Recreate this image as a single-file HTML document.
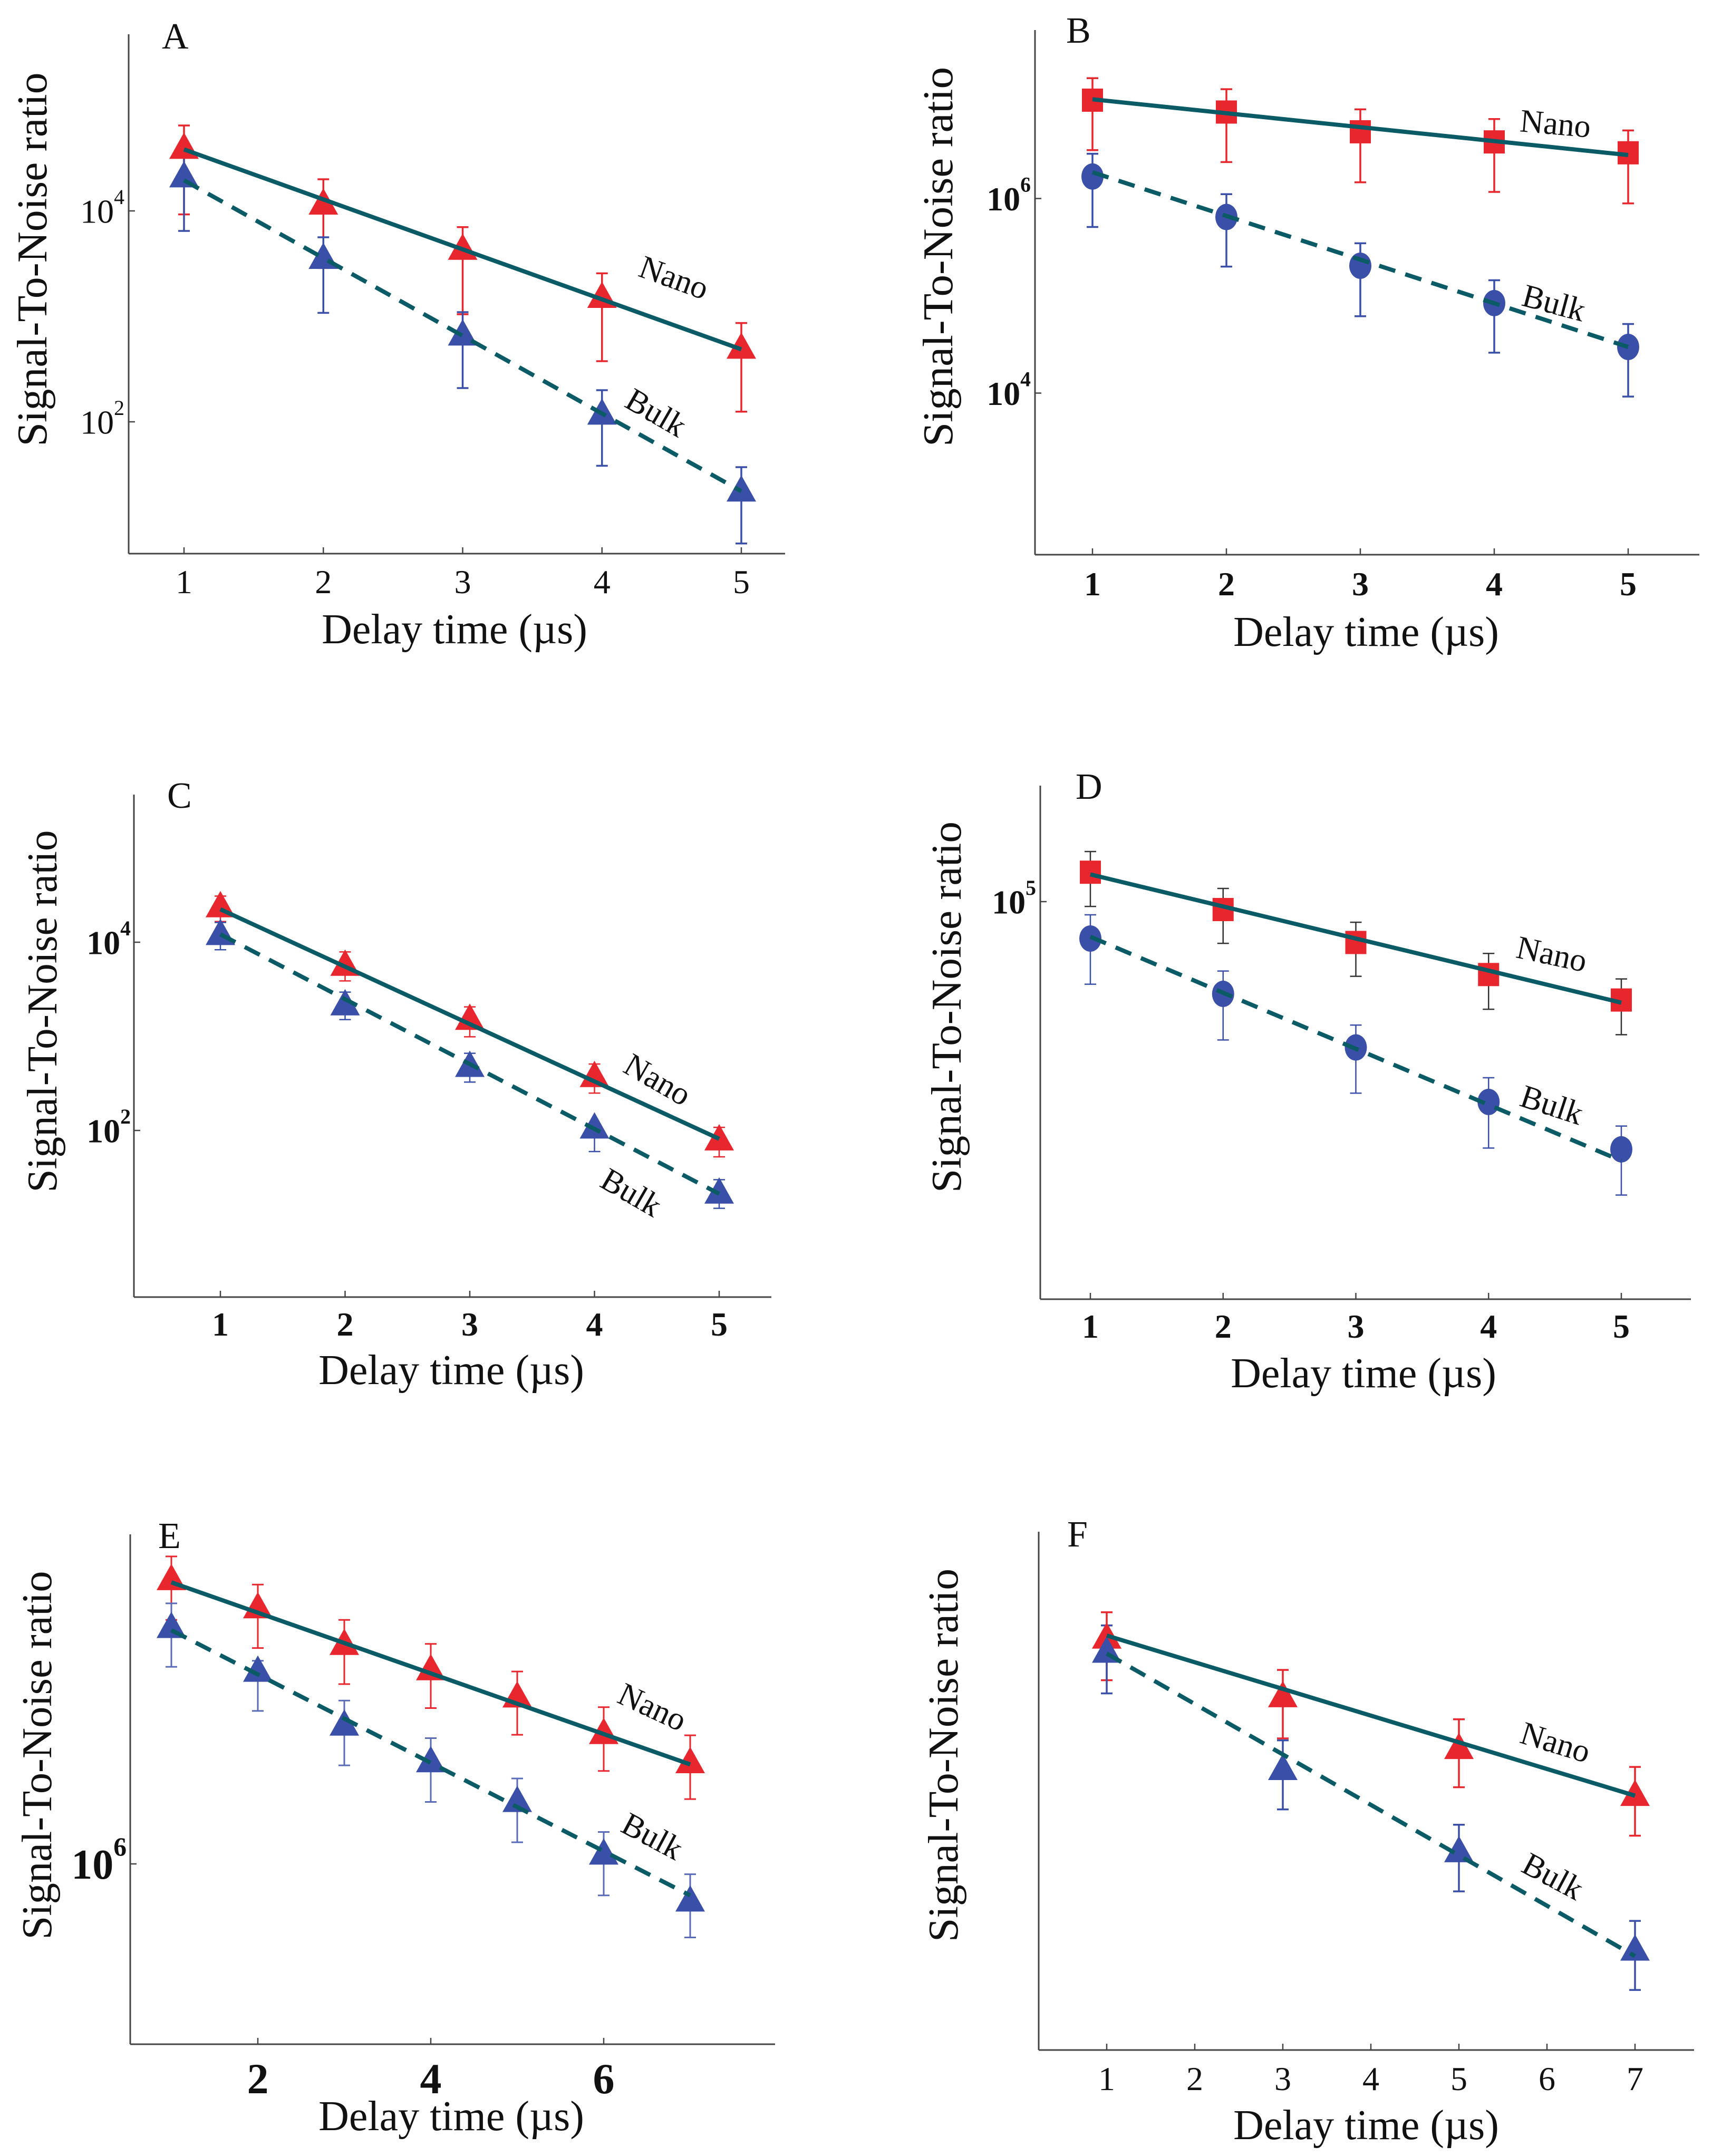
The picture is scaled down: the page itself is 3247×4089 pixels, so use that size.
<!DOCTYPE html>
<html><head><meta charset="utf-8"><style>
html,body{margin:0;padding:0;background:#fff}
svg{display:block}
text{font-family:"Liberation Serif",serif;fill:#111}
</style></head><body>
<svg id="fig" width="3247" height="4089" viewBox="0 0 3247 4089" xmlns="http://www.w3.org/2000/svg"></svg>
<script>
// ---- data (log10 of signal-to-noise) ----
const xA=[1,2,3,4,5];
const nanoA=[4.604,4.075,3.646,3.19,2.708];
const nanoHiA=[4.81,4.3,3.846,3.408,2.937];
const nanoLoA=[3.967,3.458,3.02,2.575,2.096];
const bulkA=[4.333,3.56,2.833,2.083,1.354];
const bulkHiA=[4.54,3.75,3.04,2.3,1.57];
const bulkLoA=[3.81,3.033,2.32,1.583,0.846];
const fitNanoA=[4.583,2.6875];
const fitBulkA=[4.29,1.342];

const xB=[1,2,3,4,5];
const nanoB=[7.011,6.889,6.686,6.582,6.47];
const nanoHiB=[7.237,7.124,6.917,6.817,6.7];
const nanoLoB=[6.497,6.375,6.167,6.068,5.95];
const bulkB=[6.226,5.81,5.309,4.925,4.474];
const bulkHiB=[6.46,6.045,5.54,5.16,4.71];
const bulkLoB=[5.707,5.3,4.79,4.415,3.964];
const fitNanoB=[7.02,6.447];
const fitBulkB=[6.27,4.474];

const xC=[1,2,3,4,5];
const nanoC=[4.388,3.766,3.192,2.584,1.911];
const nanoHiC=[4.49,3.897,3.313,2.706,2.033];
const nanoLoC=[4.22,3.589,2.995,2.397,1.72];
const bulkC=[4.093,3.346,2.692,2.037,1.346];
const bulkHiC=[4.21,3.47,2.82,2.07,1.477];
const bulkLoC=[3.92,3.178,2.514,1.776,1.173];
const fitNanoC=[4.35,1.911];
const fitBulkC=[4.084,1.327];

const xD=[1,2,3,4,5];
const nanoD=[5.067,4.982,4.907,4.834,4.776];
const nanoHiD=[5.114,5.03,4.953,4.882,4.824];
const nanoLoD=[4.989,4.905,4.83,4.755,4.697];
const bulkD=[4.916,4.79,4.668,4.544,4.436];
const bulkHiD=[4.97,4.842,4.719,4.599,4.489];
const bulkLoD=[4.812,4.685,4.564,4.439,4.332];
const fitNanoD=[5.062,4.77];
const fitBulkD=[4.92,4.41];

const xE=[1,2,3,4,5,6,7];
const nanoE=[6.76,6.685,6.5875,6.52,6.4475,6.35,6.2725];
const nanoHiE=[6.819,6.744,6.65,6.586,6.5125,6.4175,6.3425];
const nanoLoE=[6.65,6.575,6.479,6.415,6.344,6.2475,6.1725];
const bulkE=[6.6325,6.516,6.3725,6.275,6.169,6.029,5.904];
const bulkHiE=[6.694,6.541,6.435,6.335,6.2275,6.085,5.9725];
const bulkLoE=[6.525,6.4075,6.2625,6.165,6.0575,5.916,5.804];
const fitNanoE=[6.75,6.265];
const fitBulkE=[6.6225,5.916];

const xF=[1,3,5,7];
const nanoF=[4.1,3.944,3.806,3.681];
const nanoHiF=[4.166,4.0125,3.881,3.754];
const nanoLoF=[3.985,3.83,3.7,3.571];
const bulkF=[4.0625,3.75,3.531,3.269];
const bulkHiF=[4.131,3.825,3.6,3.344];
const bulkLoF=[3.95,3.641,3.4225,3.16];
const fitNanoF=[4.104,3.6775];
const fitBulkF=[4.056,3.25];

const xTicksA=[1,2,3,4,5], xTicksE=[2,4,6], xTicksF=[1,2,3,4,5,6,7];
const yTicksA=[4,2], yTicksB=[6,4], yTicksC=[4,2], yTicksD=[5], yTicksE=[6], yTicksF=[];

// ---- layout ----
const panels=[
 {id:'a',L:'A',lx:307,ly:92,x:xA,n:nanoA,nh:nanoHiA,nl:nanoLoA,b:bulkA,bh:bulkHiA,bl:bulkLoA,fn:fitNanoA,fb:fitBulkA,
  ax:244,top:65,ay:1050,right:1489,xa:[1,349],xb:[5,1406],ya:[4,400],yb:[2,800],xt:xTicksA,yt:yTicksA,bold:false,
  tickY:1125,tickF:64,ytF:64,ytR:236,title:[862,1220],yl:[62,492,709],nano:[1278,527,20],bulk:[1244,783,30],mk:'tri',ne:'#e8262e',be:'#3a4fa8',ew:3.5},
 {id:'b',L:'B',lx:2022,ly:81,x:xB,n:nanoB,nh:nanoHiB,nl:nanoLoB,b:bulkB,bh:bulkHiB,bl:bulkLoB,fn:fitNanoB,fb:fitBulkB,
  ax:1963,top:57,ay:1052,right:3223,xa:[1,2072],xb:[5,3088],ya:[6,376.5],yb:[4,745.5],xt:xTicksA,yt:yTicksB,bold:true,
  tickY:1129,tickF:64,ytF:64,ytR:1955,title:[2591,1225],yl:[1780,487,720],nano:[2950,235,5],bulk:[2947,575,15],mk:'sq',ne:'#e8262e',be:'#3a4fa8',ew:3.5},
 {id:'c',L:'C',lx:317,ly:1532,x:xC,n:nanoC,nh:nanoHiC,nl:nanoLoC,b:bulkC,bh:bulkHiC,bl:bulkLoC,fn:fitNanoC,fb:fitBulkC,
  ax:254,top:1507,ay:2460,right:1463,xa:[1,418],xb:[5,1364],ya:[4,1787],yb:[2,2144],xt:xTicksA,yt:yTicksC,bold:true,
  tickY:2533,tickF:64,ytF:64,ytR:248,title:[856,2625],yl:[81,1918,687],nano:[1247,2048,30],bulk:[1197,2262,30],mk:'tri',ne:'#e8262e',be:'#3a4fa8',ew:2.5},
 {id:'d',L:'D',lx:2040,ly:1515,x:xD,n:nanoD,nh:nanoHiD,nl:nanoLoD,b:bulkD,bh:bulkHiD,bl:bulkLoD,fn:fitNanoD,fb:fitBulkD,
  ax:1973,top:1490,ay:2464,right:3207,xa:[1,2068],xb:[5,3075],ya:[5,1710],yb:[4,2543],xt:xTicksA,yt:yTicksD,bold:true,
  tickY:2537,tickF:64,ytF:64,ytR:1965,title:[2586,2631],yl:[1796,1910,704],nano:[2943,1810,12],bulk:[2943,2096,18],mk:'sq',ne:'#333',be:'#3a4fa8',ew:2.5},
 {id:'e',L:'E',lx:300,ly:2936,x:xE,n:nanoE,nh:nanoHiE,nl:nanoLoE,b:bulkE,bh:bulkHiE,bl:bulkLoE,fn:fitNanoE,fb:fitBulkE,
  ax:247,top:2910,ay:3877,right:1470,xa:[2,489],xb:[6,1145],ya:[6,3535],yb:[5,4247],xt:xTicksE,yt:yTicksE,bold:true,
  tickY:3970,tickF:82,ytF:80,ytR:240,title:[856,4040],yl:[71,3329,699],nano:[1237,3238,25],bulk:[1237,3483,28],mk:'tri',ne:'#e8262e',be:'#5a6bb8',ew:3},
 {id:'f',L:'F',lx:2024,ly:2933,x:xF,n:nanoF,nh:nanoHiF,nl:nanoLoF,b:bulkF,bh:bulkHiF,bl:bulkLoF,fn:fitNanoF,fb:fitBulkF,
  ax:1970,top:2905,ay:3888,right:3213,xa:[1,2099],xb:[7,3101],ya:[3,3888],yb:[4,3176],xt:xTicksF,yt:yTicksF,bold:false,
  tickY:3964,tickF:64,ytF:56,ytR:1960,title:[2591,4057],yl:[1790,3329,708],nano:[2950,3305,17],bulk:[2945,3559,28],mk:'tri',ne:'#e8262e',be:'#3a4fa8',ew:3.5}
];
const NS='http://www.w3.org/2000/svg';
const svg=document.getElementById('fig');
function mk(tag,attrs,parent){const e=document.createElementNS(NS,tag);for(const k in attrs)e.setAttribute(k,attrs[k]);(parent||svg).appendChild(e);return e;}
const RED='#e8262e',BLUE='#3a4fa8',TEAL='#0b5b66';
panels.forEach(p=>{
  const g=mk('g',{});
  
  
  const X=v=>p.xa[1]+(v-p.xa[0])*(p.xb[1]-p.xa[1])/(p.xb[0]-p.xa[0]);
  const Y=v=>p.ya[1]+(v-p.ya[0])*(p.yb[1]-p.ya[1])/(p.yb[0]-p.ya[0]);
  const ya=mk('line',{x1:p.ax,y1:p.top,x2:p.ax,y2:p.ay,stroke:'#444','stroke-width':3},g);
  
  
  const xaL=mk('line',{x1:p.ax,y1:p.ay,x2:p.right,y2:p.ay,stroke:'#444','stroke-width':3},g);
  
  
  p.xt.forEach(t=>{
    mk('line',{x1:X(t),y1:p.ay,x2:X(t),y2:p.ay-12,stroke:'#444','stroke-width':2.5},g);
    const tl=mk('text',{x:X(t),y:p.tickY,'text-anchor':'middle','font-size':p.tickF,'font-weight':p.bold?'bold':'normal'},g);
    tl.textContent=t;
    
    
  });
  p.yt.forEach(t=>{
    mk('line',{x1:p.ax,y1:Y(t),x2:p.ax+12,y2:Y(t),stroke:'#444','stroke-width':2.5},g);
    const tl=mk('text',{x:p.ytR,y:Y(t)+p.ytF*0.35,'text-anchor':'end','font-size':p.ytF,'font-weight':p.bold?'bold':'normal'},g);
    
    
    const a=document.createElementNS(NS,'tspan');a.textContent='10';tl.appendChild(a);
    const s=document.createElementNS(NS,'tspan');s.setAttribute('dy',-p.ytF*0.55);s.setAttribute('font-size',p.ytF*0.62);s.textContent=t;tl.appendChild(s);
  });
  const pl=mk('text',{x:p.lx,y:p.ly,'font-size':70},g);pl.textContent=p.L;
  
  
  const xt=mk('text',{x:p.title[0],y:p.title[1],'text-anchor':'middle','font-size':80},g);xt.textContent='Delay time (µs)';
  
  
  const yt=mk('text',{x:0,y:0,'text-anchor':'middle','dominant-baseline':'central','font-size':80,textLength:p.yl[2],lengthAdjust:'spacingAndGlyphs',transform:`translate(${p.yl[0]},${p.yl[1]}) rotate(-90)`},g);
  yt.textContent='Signal-To-Noise ratio';
  
  
  function ebar(x,hi,lo,col,name){
    const eg=mk('g',{stroke:col,'stroke-width':p.ew},g);
    
    
    mk('line',{x1:X(x),y1:Y(hi),x2:X(x),y2:Y(lo)},eg);
    mk('line',{x1:X(x)-11,y1:Y(hi),x2:X(x)+11,y2:Y(hi)},eg);
    mk('line',{x1:X(x)-11,y1:Y(lo),x2:X(x)+11,y2:Y(lo)},eg);
  }
  function marker(x,v,col,shape,name){
    const cx=X(x),cy=Y(v);let e;
    if(shape==='tri') e=mk('polygon',{points:`${cx},${cy-28} ${cx-28},${cy+22} ${cx+28},${cy+22}`,fill:col},g);
    else if(shape==='sq') e=mk('rect',{x:cx-20,y:cy-22,width:40,height:44,fill:col},g);
    else e=mk('ellipse',{cx:cx,cy:cy,rx:21,ry:25,fill:col},g);
    
    
  }
  const bshape=p.mk==='sq'?'circ':'tri';
  const nshape=p.mk==='sq'?'sq':'tri';
  p.x.forEach((x,i)=>ebar(x,p.nh[i],p.nl[i],p.ne,'nano-error-bar'));
  p.x.forEach((x,i)=>ebar(x,p.bh[i],p.bl[i],p.be,'bulk-error-bar'));
  p.x.forEach((x,i)=>marker(x,p.n[i],RED,nshape,'nano-point'));
  p.x.forEach((x,i)=>marker(x,p.b[i],BLUE,bshape,'bulk-point'));
  const x0=p.x[0],x1=p.x[p.x.length-1];
  const ln=mk('line',{x1:X(x0),y1:Y(p.fn[0]),x2:X(x1),y2:Y(p.fn[1]),stroke:TEAL,'stroke-width':8},g);
  
  
  const lb=mk('line',{x1:X(x0),y1:Y(p.fb[0]),x2:X(x1),y2:Y(p.fb[1]),stroke:TEAL,'stroke-width':8,'stroke-dasharray':'32 20'},g);
  
  
  const nt=mk('text',{x:0,y:0,'text-anchor':'middle','dominant-baseline':'central','font-size':62,transform:`translate(${p.nano[0]},${p.nano[1]}) rotate(${p.nano[2]})`},g);
  nt.textContent='Nano';
  
  
  const bt=mk('text',{x:0,y:0,'text-anchor':'middle','dominant-baseline':'central','font-size':62,transform:`translate(${p.bulk[0]},${p.bulk[1]}) rotate(${p.bulk[2]})`},g);
  bt.textContent='Bulk';
  
  
});
</script>
</body></html>
